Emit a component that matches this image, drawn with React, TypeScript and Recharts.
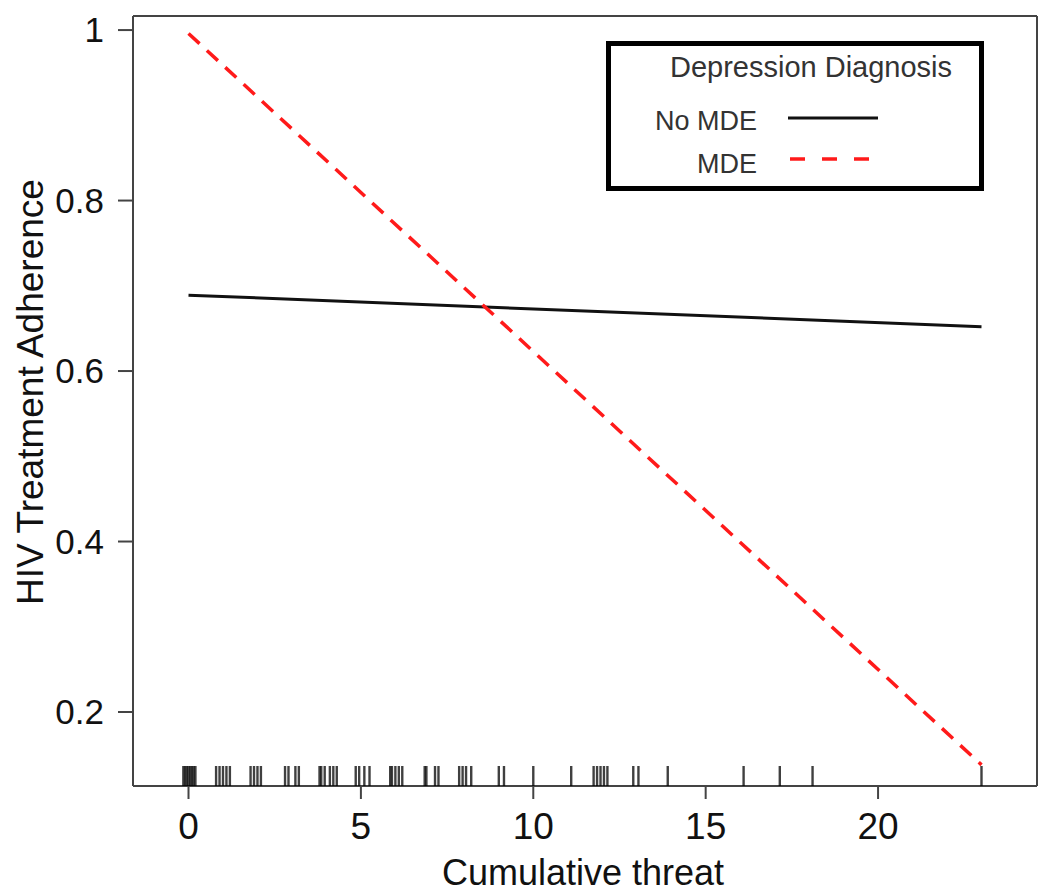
import React from 'react';
import { ComposedChart, Line, Scatter, XAxis, YAxis, Legend, Label } from 'recharts';

// predicted adherence at the ends of the threat range
const threat = [0, 23];
const noMde = [0.689, 0.652];
const mde = [0.996, 0.138];

// observed cumulative threat values (jittered rug)
const rugValues = [
  -0.15, -0.1, -0.05, 0, 0.05, 0.1, 0.15, 0.2,
  0.8, 0.9, 1.0, 1.1, 1.2,
  1.8, 1.9, 2.0, 2.1,
  2.8, 2.9, 3.1, 3.2,
  3.8, 3.85, 3.95, 4.1, 4.2, 4.3,
  4.85, 4.95, 5.1, 5.25,
  5.85, 5.9, 6.0, 6.1, 6.2,
  6.85, 6.9, 7.15, 7.25,
  7.85, 7.95, 8.05, 8.2,
  9.0, 9.15,
  10.0,
  11.1,
  11.75, 11.85, 11.95, 12.05, 12.15,
  12.9, 13.05,
  13.9,
  16.1, 17.15, 18.1, 23.0,
];

const xTicks = [0, 5, 10, 15, 20];
const yTicks = [0.2, 0.4, 0.6, 0.8, 1];
const xDomain = [-1.61, 24.61];
const yDomain = [0.1132, 1.0165];

const noMdeData = threat.map((x, i) => ({ x, y: noMde[i] }));
const mdeData = threat.map((x, i) => ({ x, y: mde[i] }));
const rugData = rugValues.map(x => ({ x, y: yDomain[0] }));

const FONT = '"Liberation Sans", Arial, sans-serif';
const AXIS = '#444';

const XTick = (props: any) => {
  const { x, y, payload } = props;
  return (
    <text x={x} y={y + 38} textAnchor="middle" fontSize={37} fontFamily={FONT} fill="#111">
      {payload.value}
    </text>
  );
};

const YTick = (props: any) => {
  const { x, y, payload } = props;
  return (
    <text x={x - 12} y={y + 12} textAnchor="end" fontSize={35} fontFamily={FONT} fill="#111">
      {payload.value === 1 ? '1' : payload.value.toFixed(1)}
    </text>
  );
};

const RugMark = (props: any) => {
  const { cx, cy } = props;
  return <line x1={cx} x2={cx} y1={cy} y2={cy - 20} stroke="#000" strokeOpacity={0.75} strokeWidth={2.4} />;
};

const LegendBox = () => (
  <div
    style={{
      width: 378,
      height: 150,
      border: '5px solid #000',
      boxSizing: 'border-box',
      background: '#fff',
    }}
  >
    <svg width={368} height={140}>
      <text x={200} y={31} textAnchor="middle" fontSize={29} fontFamily={FONT} fill="#333">
        Depression Diagnosis
      </text>
      <text x={146} y={84} textAnchor="end" fontSize={27} fontFamily={FONT} fill="#333">
        No MDE
      </text>
      <line x1={177} x2={267} y1={72} y2={72} stroke="#111" strokeWidth={3} />
      <text x={146} y={127} textAnchor="end" fontSize={27} fontFamily={FONT} fill="#333">
        MDE
      </text>
      <line x1={179} x2={262} y1={113} y2={113} stroke="#ff1a1a" strokeWidth={3.5} strokeDasharray="15 17" />
    </svg>
  </div>
);

export default function App() {
  return (
    <div style={{ position: 'absolute', left: 0, top: 0, background: '#fff' }}>
      <ComposedChart width={1050} height={894} margin={{ top: 0, right: 0, bottom: 0, left: 0 }}>
        <XAxis
          xAxisId="b"
          dataKey="x"
          type="number"
          domain={xDomain}
          ticks={xTicks}
          allowDataOverflow
          height={108}
          tickSize={13}
          stroke={AXIS}
          strokeWidth={2}
          tick={<XTick />}
        >
          <Label
            content={() => (
              <text x={583} y={885} textAnchor="middle" fontSize={36} fontFamily={FONT} fill="#111">
                Cumulative threat
              </text>
            )}
          />
        </XAxis>
        <XAxis
          xAxisId="t"
          orientation="top"
          dataKey="x"
          type="number"
          domain={xDomain}
          ticks={xTicks}
          allowDataOverflow
          height={16}
          tickSize={16}
          stroke={AXIS}
          strokeWidth={2}
          tick={false}
        />
        <YAxis
          yAxisId="l"
          dataKey="y"
          type="number"
          domain={yDomain}
          ticks={yTicks}
          allowDataOverflow
          width={133}
          tickSize={15}
          stroke={AXIS}
          strokeWidth={2}
          tick={<YTick />}
        >
          <Label
            content={() => (
              <text
                x={0}
                y={0}
                transform="translate(43, 392) rotate(-90)"
                textAnchor="middle"
                fontSize={37}
                fontFamily={FONT}
                fill="#111"
              >
                HIV Treatment Adherence
              </text>
            )}
          />
        </YAxis>
        <YAxis
          yAxisId="r"
          orientation="right"
          dataKey="y"
          type="number"
          domain={yDomain}
          ticks={yTicks}
          allowDataOverflow
          width={13}
          tickSize={12}
          stroke={AXIS}
          strokeWidth={2}
          tick={false}
        />
        <Legend
          layout="vertical"
          align="center"
          verticalAlign="middle"
          wrapperStyle={{ left: 606, top: 41, width: 378, height: 150 }}
          content={<LegendBox />}
        />
        <Scatter
          xAxisId="b"
          yAxisId="l"
          data={rugData}
          shape={<RugMark />}
          isAnimationActive={false}
        />
        <Line
          xAxisId="b"
          yAxisId="l"
          data={noMdeData}
          dataKey="y"
          name="No MDE"
          stroke="#111"
          strokeWidth={3}
          dot={false}
          isAnimationActive={false}
        />
        <Line
          xAxisId="b"
          yAxisId="l"
          data={mdeData}
          dataKey="y"
          name="MDE"
          stroke="#ff1a1a"
          strokeWidth={3.5}
          strokeDasharray="15 10"
          dot={false}
          isAnimationActive={false}
        />
      </ComposedChart>
    </div>
  );
}
